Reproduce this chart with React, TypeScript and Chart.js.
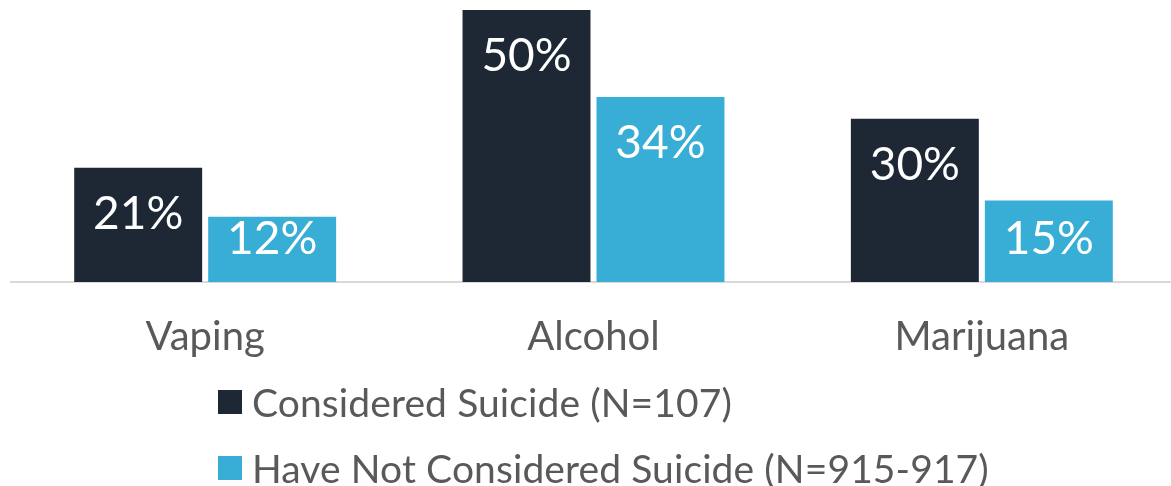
import React, { useEffect, useRef } from "react";
import { Chart, registerables } from "chart.js";

Chart.register(...registerables);

const categories = ["Vaping", "Alcohol", "Marijuana"];
const consideredValues = [21, 50, 30];
const notConsideredValues = [12, 34, 15];
const seriesLabels = ["Considered Suicide (N=107)", "Have Not Considered Suicide (N=915-917)"];
const seriesColors = ["#1E2734", "#38AED6"];

const FONT = "Lato, 'Open Sans', sans-serif";
const TEXT_COLOR = "#595959";

const valueLabels = {
  id: "valueLabels",
  afterDatasetsDraw(chart: any) {
    const ctx = chart.ctx;
    ctx.save();
    ctx.fillStyle = "#ffffff";
    ctx.font = `46px ${FONT}`;
    ctx.textAlign = "center";
    ctx.textBaseline = "middle";
    chart.data.datasets.forEach((ds: any, i: number) => {
      chart.getDatasetMeta(i).data.forEach((bar: any, j: number) => {
        const p = bar.getProps(["x", "y", "base"], true);
        const ty = Math.min(p.y + 46, p.base - 43);
        ctx.fillText(`${ds.data[j]}%`, p.x, ty);
      });
    });
    ctx.restore();
  },
};

export default function App() {
  const ref = useRef<HTMLCanvasElement | null>(null);

  useEffect(() => {
    if (!ref.current) return;
    const chart = new Chart(ref.current, {
      type: "bar",
      data: {
        labels: categories,
        datasets: [
          {
            label: seriesLabels[0],
            data: consideredValues,
            backgroundColor: seriesColors[0],
            categoryPercentage: 0.69,
            barPercentage: 0.955,
          },
          {
            label: seriesLabels[1],
            data: notConsideredValues,
            backgroundColor: seriesColors[1],
            categoryPercentage: 0.69,
            barPercentage: 0.955,
          },
        ],
      },
      options: {
        responsive: false,
        animation: false,
        devicePixelRatio: 1,
        layout: { padding: { left: 11, right: 4, top: 10, bottom: 0 } },
        plugins: {
          legend: { display: false },
          tooltip: { enabled: false },
        },
        scales: {
          x: {
            grid: { display: false, drawTicks: false },
            border: { display: true, color: "#D9D9D9", width: 2 },
            ticks: {
              color: TEXT_COLOR,
              font: { family: FONT, size: 40 },
              padding: 31,
            },
            afterFit: (scale: any) => {
              scale.height = 204;
            },
          },
          y: {
            display: false,
            min: 0,
            max: 50,
          },
        },
      },
      plugins: [valueLabels],
    });
    return () => chart.destroy();
  }, []);

  const rowStyle: React.CSSProperties = {
    position: "absolute",
    left: 218,
    display: "flex",
    alignItems: "center",
    height: 40,
    fontFamily: FONT,
    fontSize: 39,
    letterSpacing: 0.1,
    color: TEXT_COLOR,
    whiteSpace: "nowrap",
  };
  const boxStyle = (c: string): React.CSSProperties => ({
    width: 24,
    height: 24,
    background: c,
    marginRight: 10,
    flex: "none",
  });

  return (
    <div
      style={{
        position: "fixed",
        left: 0,
        top: 0,
        width: 1171,
        height: 486,
        overflow: "hidden",
        background: "#ffffff",
      }}
    >
      <canvas ref={ref} width={1180} height={486} style={{ width: 1180, height: 486, display: "block" }} />
      <div style={{ ...rowStyle, top: 382 }}>
        <span style={boxStyle(seriesColors[0])} />
        <span>{seriesLabels[0]}</span>
      </div>
      <div style={{ ...rowStyle, top: 448 }}>
        <span style={boxStyle(seriesColors[1])} />
        <span>{seriesLabels[1]}</span>
      </div>
    </div>
  );
}
